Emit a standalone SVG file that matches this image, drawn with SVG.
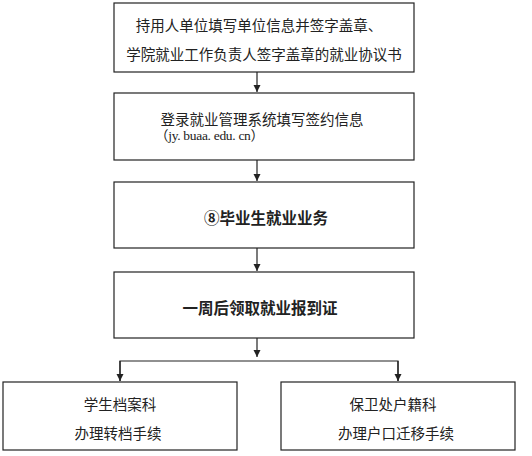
<svg xmlns="http://www.w3.org/2000/svg" width="532" height="456" viewBox="0 0 532 456">
<style>
.box{fill:#fff;stroke:#222;stroke-width:1.2}
.t{font-family:"Noto Sans CJK SC","Noto Sans",sans-serif;font-size:14.5px;fill:#222;text-anchor:middle;dominant-baseline:central}
.b{font-weight:bold;font-size:15.5px}
.m{font-family:"Liberation Serif","Noto Sans CJK SC",serif;font-size:13.5px;text-anchor:start}
.ln{stroke:#222;stroke-width:1.2;fill:none}
</style>
<defs>
<marker id="ah" markerWidth="8" markerHeight="8" refX="7" refY="4" orient="auto" markerUnits="userSpaceOnUse">
<path d="M0,0.5 L7,4 L0,7.5 Z" fill="#222"/>
</marker>
</defs>
<rect width="532" height="456" fill="#fff"/>
<g id="connectors">
<line class="ln" x1="257" y1="72" x2="257" y2="92" marker-end="url(#ah)"/>
<line class="ln" x1="257" y1="160" x2="257" y2="181" marker-end="url(#ah)"/>
<line class="ln" x1="257" y1="248" x2="257" y2="271" marker-end="url(#ah)"/>
<line class="ln" x1="257" y1="338" x2="257" y2="357" marker-end="url(#ah)"/>
<polyline class="ln" points="120,381 120,361 398,361 398,381"/>
<line class="ln" x1="120" y1="361" x2="120" y2="381" marker-end="url(#ah)"/>
<line class="ln" x1="398" y1="361" x2="398" y2="381" marker-end="url(#ah)"/>
</g>
<g id="n1">
<rect class="box" x="114" y="3" width="300" height="69"/>
<text class="t" x="259" y="24">持用人单位填写单位信息并签字盖章、</text>
<text class="t" x="264" y="53">学院就业工作负责人签字盖章的就业协议书</text>
</g>
<g id="n2">
<rect class="box" x="114" y="93" width="300" height="67"/>
<text class="t" x="262" y="118">登录就业管理系统填写签约信息</text>
<text class="t m" x="155" y="135" textLength="109" lengthAdjust="spacing">（jy. buaa. edu. cn）</text>
</g>
<g id="n3">
<rect class="box" x="114" y="182" width="300" height="66"/>
<text class="t b" x="266" y="217">⑧毕业生就业业务</text>
</g>
<g id="n4">
<rect class="box" x="114" y="272" width="300" height="66"/>
<text class="t b" x="260" y="307">一周后领取就业报到证</text>
</g>
<g id="n5">
<rect class="box" x="3" y="382" width="234" height="68"/>
<text class="t" x="120" y="403">学生档案科</text>
<text class="t" x="118" y="432">办理转档手续</text>
</g>
<g id="n6">
<rect class="box" x="281" y="382" width="234" height="68"/>
<text class="t" x="393" y="403">保卫处户籍科</text>
<text class="t" x="396" y="432">办理户口迁移手续</text>
</g>
</svg>
